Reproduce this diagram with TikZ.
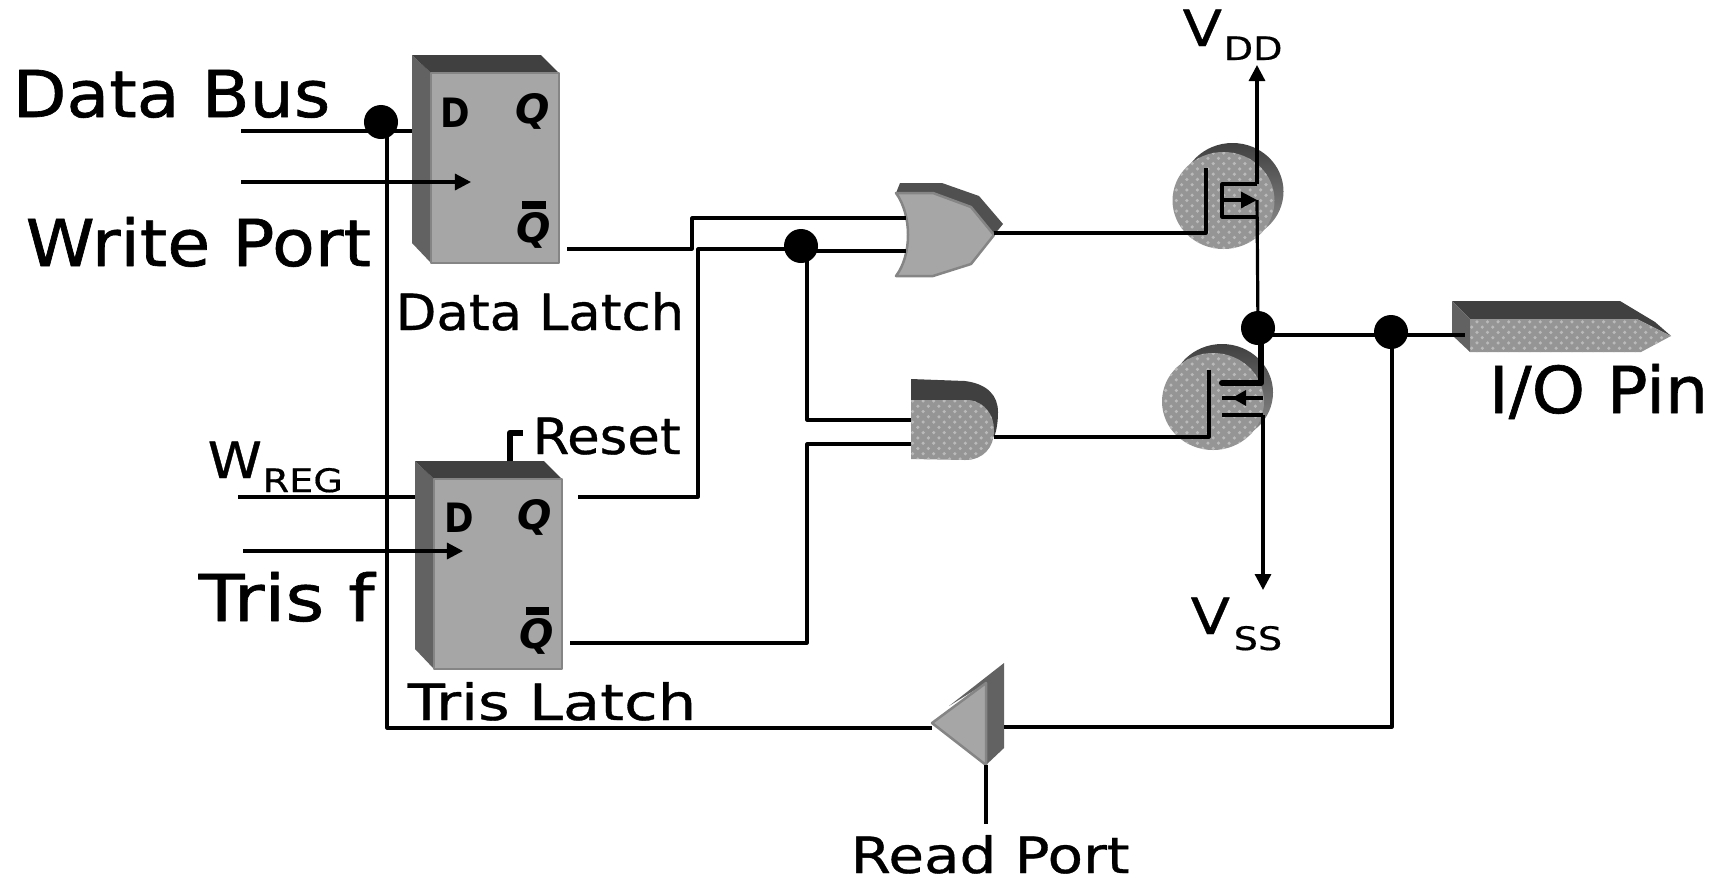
\documentclass[tikz,border=0pt]{standalone}
\usepackage{fontspec}
\setmainfont{DejaVu Sans}
\usetikzlibrary{arrows.meta,calc,patterns}
\definecolor{bodygray}{HTML}{A6A6A6}
\definecolor{edgegray}{HTML}{858585}
\definecolor{sidegray}{HTML}{626262}
\definecolor{topgray}{HTML}{404040}
\definecolor{orgray}{HTML}{505050}
\definecolor{checkgray}{HTML}{BABABA}
\tikzset{
  wire/.style={line width=0.32mm, black},
  tipwire/.style={wire, -{Triangle[length=1.6mm,width=1.6mm]}},
  junction/.style={circle, fill=black, inner sep=0pt, minimum size=3.4mm},
  front/.style={fill=bodygray, draw=edgegray, line width=0.25mm},
  textured/.style={fill=bodygray!90!black, postaction={pattern=crosshatch dots, pattern color=checkgray}},
  toptext/.style={anchor=base west, inner sep=0pt, font=\fontsize{18.4}{20}\selectfont\addfontfeatures{FakeStretch=#1,FakeBold=1}},
  toptext/.default=1.08,
  midtext/.style={anchor=base west, inner sep=0pt, font=\fontsize{14.2}{16}\selectfont\addfontfeatures{FakeStretch=#1,FakeBold=0.7}},
  midtext/.default=1.06,
  subtext/.style={anchor=base west, inner sep=0pt, font=\fontsize{9.2}{10}\selectfont\addfontfeatures{FakeStretch=#1,FakeBold=0.5}},
  subtext/.default=1.18,
  pintext/.style={anchor=base west, inner sep=0pt, font=\fontsize{11.5}{13}\selectfont\bfseries\addfontfeatures{FakeStretch=0.88}},
  pinitalic/.style={anchor=base west, inner sep=0pt, font=\fontsize{11.5}{13}\selectfont\bfseries\itshape},
}
\newcommand{\latchbox}[1]{
  \fill[sidegray] (#1) -- +(0,188) -- +(19,208) -- +(19,18) -- cycle;
  \fill[topgray] (#1) -- +(129,0) -- +(147,18) -- +(19,18) -- cycle;
  \draw[front] ($(#1)+(19,18)$) rectangle +(128,190);
}
\newcommand{\mosdisc}[1]{
  \shade[top color=topgray, bottom color=gray!85] ($(#1)+(9,-9)$) ellipse [x radius=51, y radius=48.5];
  \path[textured] (#1) ellipse [x radius=51, y radius=48.5];
}
\begin{document}
\begin{tikzpicture}[x=0.01cm, y=-0.01cm, line join=round]
\useasboundingbox (0,0) rectangle (1715,881);

\coordinate (datalatch) at (412,55);
\coordinate (trislatch) at (415,461);
\coordinate (pmos) at (1223.5,200.5);
\coordinate (nmos) at (1213,401.5);

\latchbox{datalatch}
\latchbox{trislatch}
\mosdisc{pmos}
\mosdisc{nmos}

\fill[orgray] (896,193) -- (900,183) -- (942,183) -- (979,196) -- (1003,224) -- (994,235) -- (971,207) -- (933,193) -- cycle;
\draw[front] (896,193) -- (933,193) -- (971,207) -- (994,235) -- (971,264) -- (933,276) -- (896,276) .. controls (912,255) and (912,215) .. (896,193) -- cycle;

\fill[topgray] (911,400) -- (911,379) -- (965,381) .. controls (988,384) and (998,396) .. (998,412) .. controls (998,420) and (997,430) .. (994,437) -- (969,400) -- cycle;
\path[textured] (911,400) -- (969,400) .. controls (985,402) and (994,415) .. (994,430) .. controls (994,448) and (983,460) .. (965,460) -- (911,459) -- cycle;

\fill[sidegray] (949,706) -- (1004,663) -- (1004,748) -- (986,765) -- (986,683) -- cycle;
\draw[front] (932,723) -- (986,683) -- (986,765) -- cycle;

\fill[topgray] (1452,301) -- (1620,301) -- (1655,322) -- (1671,336) -- (1637,319) -- (1470,319) -- cycle;
\fill[sidegray] (1452,301) -- (1470,319) -- (1470,352) -- (1452,335) -- cycle;
\path[textured] (1470,319) -- (1637,319) -- (1671,336) -- (1641,352) -- (1470,352) -- cycle;

\node[junction] (busdot) at (381,122) {};
\node[junction] (orindot) at (801,246) {};
\node[junction] (outdot) at (1258,328) {};
\node[junction] (pindot) at (1391,332) {};

\coordinate (pinpad) at (1465,335);
\coordinate (bufin) at (1004,727);
\coordinate (bufout) at (932,728);
\coordinate (busleft) at (387,728);
\coordinate (orA) at (906,218);
\coordinate (orB) at (906,251);
\coordinate (andA) at (911,420);
\coordinate (andB) at (911,444);
\coordinate (orout) at (994,233);
\coordinate (andout) at (994,437);
\coordinate (pgate) at (1206,233);
\coordinate (ngate) at (1209,437);

\draw[wire] (241,131) -- (412,131);
\draw[wire] (387,122) -- (busleft) -- (bufout);
\draw[tipwire] (241,182) -- (471,182);
\draw[wire] (238,497) -- (415,497);
\draw[tipwire] (243,551) -- (463,551);

\draw[wire] (567,249) -- (692,249) -- (692,218) -- (orA);
\draw[wire] (578,497) -- (698,497) -- (698,249) -- (790,249);
\draw[wire] (810,251) -- (orB);
\draw[wire] (807,250) -- (807,420) -- (andA);
\draw[wire] (570,643) -- (807,643) -- (807,444) -- (andB);

\draw[line width=0.65mm] (510,461) -- (510,433) -- (523,433);

\draw[wire] (orout) -- (pgate) -- (1206,168);
\draw[wire] (andout) -- (ngate) -- (1209,370);

\draw[tipwire] (1257,184) -- (1257,65);
\draw[wire] (1257,184) -- (1222,184) -- (1222,217) -- (1257,217);
\draw[wire] (1257,200) -- (outdot.center);
\draw[wire, -{Triangle[length=1.6mm,width=1.6mm]}] (1222,200) -- (1257,200);

\draw[line width=0.6mm, line cap=round] (1261,330) -- (1261,383) -- (1222,383);
\draw[wire] (1222,398) -- (1263,398);
\fill (1232,398) -- (1246,390) -- (1246,406) -- cycle;
\draw[wire] (1222,415) -- (1263,415);
\draw[tipwire] (1263,415) -- (1263,590);

\draw[wire] (1258,335) -- (pinpad);
\draw[wire] (1392,332) -- (1392,727) -- (bufin);
\draw[wire] (986,765) -- (986,824);

\fill (522,201) rectangle (546,209);
\fill (526,607) rectangle (549,615);

\node[pintext] (dD) at (440,127) {D};
\node[pinitalic] (dQ) at (515,123) {Q};
\node[pinitalic] (dQbar) at (516,242) {Q};
\node[pintext] (tD) at (444,532) {D};
\node[pinitalic] (tQ) at (517,529) {Q};
\node[pinitalic] (tQbar) at (519,648) {Q};

\node[toptext] (databus) at (12,117) {Data Bus};
\node[toptext] (writeport) at (25,266) {Write Port};
\node[toptext=1.16] (trisf) at (198,621) {Tris f};
\node[midtext] (datalabel) at (395,330) {Data Latch};
\node[midtext=1.22] (trislabel) at (407,720) {Tris Latch};
\node[midtext] (resetlabel) at (532,454) {Reset};
\node[midtext=1.16] (readport) at (850,873) {Read Port};
\node[toptext=1.05] (iopin) at (1488,413) {I/O Pin};
\node[midtext=1.1] (wlabel) at (207,478) {W};
\node[subtext] (wsub) at (262,492) {REG};
\node[midtext=1.15] (vdd) at (1182,46) {V};
\node[subtext] (vddsub) at (1223,60) {DD};
\node[midtext=1.15] (vss) at (1190,634) {V};
\node[subtext] (vsssub) at (1233,650) {SS};

\end{tikzpicture}
\end{document}
